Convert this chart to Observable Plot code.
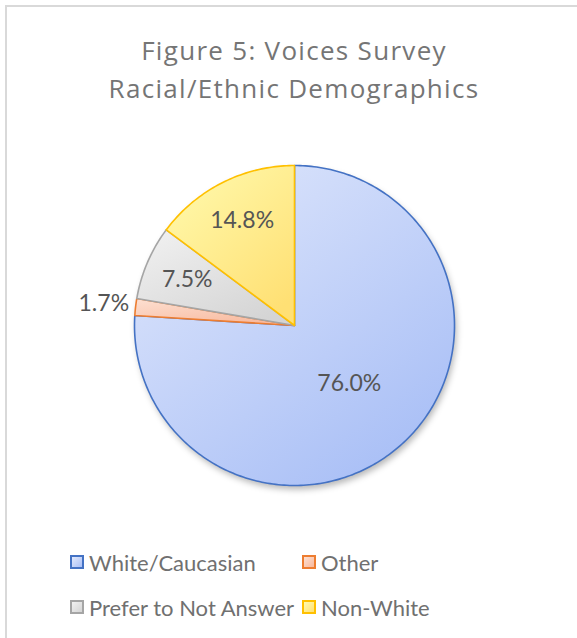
<!DOCTYPE html>
<html>
<head>
<meta charset="utf-8">
<script src="https://cdn.jsdelivr.net/npm/d3@7"></script>
<script src="https://cdn.jsdelivr.net/npm/@observablehq/plot@0.6"></script>
<style>
  html, body { margin: 0; padding: 0; background: #fff; }
  #wrap { position: relative; width: 577px; height: 638px; overflow: hidden; font-family: Lato, "Open Sans", sans-serif; }
  #frame { position: absolute; left: 5px; top: 5px; width: 600px; height: 660px; border-left: 2px solid #d9d9d9; border-top: 2px solid #d9d9d9; }
  #title { position: absolute; left: 0; width: 588px; top: 31px; text-align: center; color: #757575; font-family: "Open Sans", Lato, sans-serif; font-size: 26px; letter-spacing: 1.3px; line-height: 38px; }
  #chart { position: absolute; left: 0; top: 0; }
  .leg { position: absolute; display: flex; align-items: center; color: #707070; font-size: 22px; white-space: nowrap; }
  .sw { width: 10px; height: 10px; border: 2px solid; margin-right: 5px; }
</style>
</head>
<body>
<div id="wrap">
  <div id="frame"></div>
  <div id="chart"></div>
  <div id="title">Figure 5: Voices Survey<br>Racial/Ethnic Demographics</div>
  <div id="legend"></div>
</div>
<script>
// Data (clockwise from 12 o'clock)
const categories = ["White/Caucasian", "Other", "Prefer to Not Answer", "Non-White"];
const values = [76.0, 1.7, 7.5, 14.8];

// Styles
const lightColors = ["#e2e9fc", "#fde0d2", "#f2f2f2", "#fffbb0"];
const darkColors  = ["#a9bff6", "#f8b89c", "#d4d4d4", "#ffe074"];
const strokeColors = ["#4472c4", "#ed7d31", "#a5a5a5", "#ffc000"];

const total = d3.sum(values);
let cum = 0;
const slices = values.map((v, i) => {
  const a0 = cum / total * 2 * Math.PI;
  cum += v;
  const a1 = cum / total * 2 * Math.PI;
  const pts = [{x: 0, y: 0}];
  const n = Math.max(2, Math.ceil((a1 - a0) / (Math.PI / 180)));
  for (let k = 0; k <= n; k++) {
    const a = a0 + (a1 - a0) * k / n;
    pts.push({x: Math.sin(a), y: Math.cos(a)});
  }
  pts.push({x: 0, y: 0});
  const share = v / total;
  const mid = (a0 + a1) / 2;
  const r = share > 0.5 ? 0.5 : share < 0.03 ? 1.2 : 0.73;
  return {i, name: categories[i], value: v, pts, label: {x: r * Math.sin(mid), y: r * Math.cos(mid), text: v.toFixed(1) + "%"}};
});

const circle = d3.range(0, 361).map(d => ({x: Math.sin(d * Math.PI / 180), y: Math.cos(d * Math.PI / 180)}));

const svg = Plot.plot({
  width: 577,
  height: 530,
  margin: 0,
  x: {domain: [-1, 1], range: [134, 454], axis: null},
  y: {domain: [-1, 1], range: [485, 165], axis: null},
  marks: [
    Plot.line(circle, {x: "x", y: "y", fill: "#000", fillOpacity: 0.28, stroke: "none", className: "pie-shadow"}),
    ...slices.map(s => Plot.line(s.pts, {x: "x", y: "y", fill: `url(#grad${s.i})`, stroke: strokeColors[s.i], strokeWidth: 1.6, strokeLinejoin: "round"})),
    Plot.text(slices.map(s => s.label), {x: "x", y: "y", text: "text", fontSize: 23, fill: "#555555", fontFamily: "Lato, 'Open Sans', sans-serif"})
  ]
});

const defs = d3.select(svg).insert("defs", ":first-child");
lightColors.forEach((c, i) => {
  const g = defs.append("linearGradient").attr("id", "grad" + i)
    .attr("x1", "0").attr("y1", "0").attr("x2", "0.75").attr("y2", "1");
  g.append("stop").attr("offset", "0%").attr("stop-color", c);
  g.append("stop").attr("offset", "100%").attr("stop-color", darkColors[i]);
});
const f = defs.append("filter").attr("id", "pieShadow").attr("x", "-20%").attr("y", "-20%").attr("width", "140%").attr("height", "140%");
f.append("feGaussianBlur").attr("in", "SourceGraphic").attr("stdDeviation", 3);
f.append("feOffset").attr("dx", 2).attr("dy", 4);
d3.select(svg).selectAll(".pie-shadow").attr("filter", "url(#pieShadow)");

document.getElementById("chart").appendChild(svg);

// Legend
const legPos = [[70, 562], [302, 562], [70, 607], [302, 607]];
const legend = document.getElementById("legend");
categories.forEach((c, i) => {
  const el = document.createElement("div");
  el.className = "leg";
  el.style.left = legPos[i][0] + "px";
  el.style.top = (legPos[i][1] - 13) + "px";
  el.style.height = "26px";
  const sw = document.createElement("div");
  sw.className = "sw";
  sw.style.borderColor = strokeColors[i];
  sw.style.background = `linear-gradient(135deg, ${lightColors[i]}, ${darkColors[i]})`;
  el.appendChild(sw);
  const t = document.createElement("span");
  t.textContent = c;
  el.appendChild(t);
  legend.appendChild(el);
});
</script>
</body>
</html>
